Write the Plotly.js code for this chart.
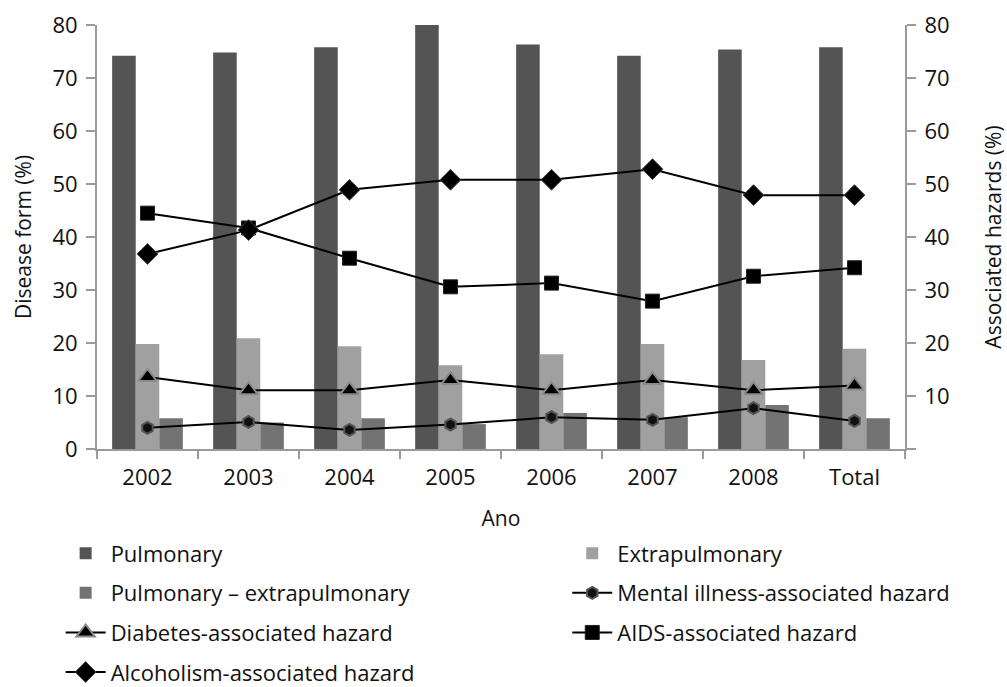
<!DOCTYPE html>
<html>
<head>
<meta charset="utf-8">
<script src="https://cdn.plot.ly/plotly-3.0.1.min.js"></script>
<style>html,body{margin:0;padding:0;background:#fff;}#chart{width:1007px;height:687px;}</style>
</head>
<body>
<div id="chart"></div>
<script>
const categories = ["2002", "2003", "2004", "2005", "2006", "2007", "2008", "Total"];
const pulmonary = [74.2, 74.8, 75.8, 80.0, 76.3, 74.2, 75.4, 75.8];
const extrapulmonary = [19.8, 20.9, 19.4, 15.8, 17.9, 19.8, 16.8, 18.9];
const pulmExtra = [5.8, 5.0, 5.8, 4.7, 6.8, 6.0, 8.3, 5.8];
const mental = [4.0, 5.1, 3.6, 4.6, 6.0, 5.5, 7.7, 5.3];
const diabetes = [13.6, 11.1, 11.1, 13.0, 11.1, 13.0, 11.1, 12.0];
const aids = [44.5, 41.7, 36.0, 30.6, 31.3, 27.9, 32.6, 34.2];
const alcoholism = [36.8, 41.3, 48.9, 50.8, 50.8, 52.8, 47.9, 47.9];
const leftTicks = [0, 10, 20, 30, 40, 50, 60, 70, 80];
const rightTickText = ["", "10", "20", "30", "40", "50", "60", "70", "80"];

const FONT = "'Open Sans', 'Noto Sans', sans-serif";
const FS = 22;
const axisGrey = "#9a9a9a";

const traces = [
  {type: "bar", name: "Pulmonary", x: categories, y: pulmonary,
   marker: {color: "#545454"}, legend: "legend", legendgroup: "a"},
  {type: "bar", name: "Extrapulmonary", x: categories, y: extrapulmonary,
   marker: {color: "#a0a0a0"}, legend: "legend2", legendgroup: "b"},
  {type: "bar", name: "Pulmonary – extrapulmonary", x: categories, y: pulmExtra,
   marker: {color: "#737373"}, legend: "legend", legendgroup: "c"},
  {type: "scatter", mode: "lines+markers", name: "Mental illness-associated hazard",
   x: categories, y: mental, yaxis: "y2",
   line: {color: "#000", width: 2},
   marker: {symbol: "hexagon", size: 12, color: "#111", line: {color: "#555", width: 2}},
   legend: "legend2", legendgroup: "d"},
  {type: "scatter", mode: "lines+markers", name: "Diabetes-associated hazard",
   x: categories, y: diabetes, yaxis: "y2",
   line: {color: "#000", width: 2},
   marker: {symbol: "triangle-up", size: 16, color: "#000", line: {color: "#8a8a8a", width: 2}},
   legend: "legend", legendgroup: "e"},
  {type: "scatter", mode: "lines+markers", name: "AIDS-associated hazard",
   x: categories, y: aids, yaxis: "y2",
   line: {color: "#000", width: 2},
   marker: {symbol: "square", size: 14, color: "#000", line: {color: "#222", width: 1}},
   legend: "legend2", legendgroup: "f"},
  {type: "scatter", mode: "lines+markers", name: "Alcoholism-associated hazard",
   x: categories, y: alcoholism, yaxis: "y2",
   line: {color: "#000", width: 2},
   marker: {symbol: "diamond", size: 16, color: "#000", line: {color: "#444", width: 1}},
   legend: "legend", legendgroup: "g"}
];

const axisCommon = {
  range: [0, 80], showgrid: false, zeroline: false, showline: true,
  linecolor: axisGrey, linewidth: 2, ticks: "outside", ticklen: 9,
  tickcolor: axisGrey, tickwidth: 2, tickfont: {family: FONT, size: FS, color: "#111"},
  ticklabelstandoff: 4, fixedrange: true
};

const legendCommon = {
  orientation: "v", yanchor: "top", xanchor: "left",
  xref: "paper", yref: "container",
  font: {family: FONT, size: FS, color: "#111"},
  tracegroupgap: 8, bgcolor: "rgba(0,0,0,0)", itemwidth: 40
};

const layout = {
  width: 1007, height: 687,
  margin: {l: 97, r: 102, t: 25, b: 238},
  paper_bgcolor: "#fff", plot_bgcolor: "#fff",
  barmode: "group", bargap: 0.3, bargroupgap: 0,
  font: {family: FONT, color: "#111"},
  xaxis: {
    type: "category", showgrid: false, zeroline: false, showline: true,
    linecolor: axisGrey, linewidth: 2, ticks: "outside", tickson: "boundaries",
    ticklen: 8, tickcolor: axisGrey, tickwidth: 2,
    tickfont: {family: FONT, size: FS, color: "#111"}, ticklabelstandoff: 8,
    title: {text: "Ano", font: {family: FONT, size: FS - 1, color: "#111"}, standoff: 22},
    fixedrange: true
  },
  yaxis: Object.assign({}, axisCommon, {
    tickvals: leftTicks,
    title: {text: "Disease form (%)", font: {family: FONT, size: FS - 1, color: "#111"}, standoff: 15}
  }),
  yaxis2: Object.assign({}, axisCommon, {
    overlaying: "y", side: "right", tickvals: leftTicks, ticktext: rightTickText,
    title: {text: "Associated hazards (%)", font: {family: FONT, size: FS - 1, color: "#111"}, standoff: 38}
  }),
  legend: Object.assign({}, legendCommon, {x: -0.045, y: 0.225}),
  legend2: Object.assign({}, legendCommon, {x: 0.582, y: 0.225}),
  showlegend: true
};

Plotly.newPlot("chart", traces, layout, {displayModeBar: false, staticPlot: true});
</script>
</body>
</html>
